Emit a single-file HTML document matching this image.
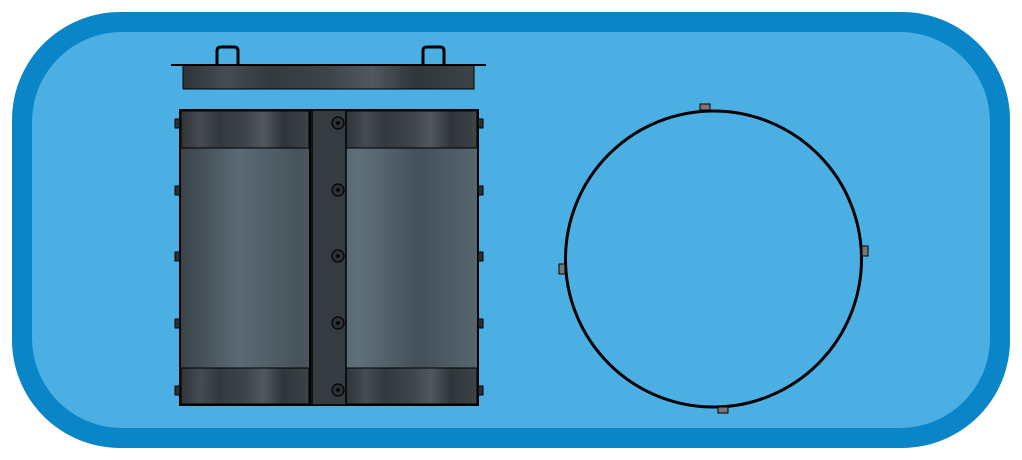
<!DOCTYPE html>
<html><head><style>html,body{margin:0;padding:0;background:#fff;}svg{display:block}</style></head>
<body>
<svg width="1022" height="460" viewBox="0 0 1022 460" xmlns="http://www.w3.org/2000/svg">
<defs>
<linearGradient id="g1" x1="0" x2="1" y1="0" y2="0">
<stop offset="0" stop-color="#2e3438"/><stop offset="0.15" stop-color="#454c52"/><stop offset="0.3" stop-color="#33393d"/><stop offset="0.5" stop-color="#3e454a"/><stop offset="0.65" stop-color="#50595f"/><stop offset="0.8" stop-color="#2f3539"/><stop offset="1" stop-color="#3d4448"/>
</linearGradient>
<linearGradient id="g2" x1="0" x2="1" y1="0" y2="0">
<stop offset="0" stop-color="#3a4349"/><stop offset="0.2" stop-color="#5a6a74"/><stop offset="0.4" stop-color="#47535b"/><stop offset="0.6" stop-color="#5f707a"/><stop offset="0.8" stop-color="#44505a"/><stop offset="1" stop-color="#56656e"/>
</linearGradient>
</defs>
<rect x="12" y="12" width="998" height="436" rx="108" fill="#0a86c8"/>
<rect x="32" y="32" width="958" height="396" rx="90" fill="#4cafe4"/>
<!-- lid -->
<g stroke="#000" fill="none" stroke-width="3">
<path d="M217 65 V51 q0-4 4-4 h13 q4 0 4 4 V65"/>
<path d="M423 65 V51 q0-4 4-4 h13 q4 0 4 4 V65"/>
</g>
<rect x="183" y="65" width="291" height="24" fill="url(#g1)" stroke="#000" stroke-width="1"/>
<line x1="171" y1="65" x2="486" y2="65" stroke="#000" stroke-width="2"/>
<!-- body -->
<rect x="180" y="110" width="298" height="295" fill="url(#g2)" stroke="#000" stroke-width="2"/>
<rect x="181" y="111" width="128" height="37" fill="url(#g1)" stroke="#000" stroke-width="1"/>
<rect x="346" y="111" width="131" height="37" fill="url(#g1)" stroke="#000" stroke-width="1"/>
<rect x="181" y="368" width="128" height="36" fill="url(#g1)" stroke="#000" stroke-width="1"/>
<rect x="346" y="368" width="131" height="36" fill="url(#g1)" stroke="#000" stroke-width="1"/>
<rect x="312" y="110" width="34" height="295" fill="#353c41" stroke="#000" stroke-width="1.5"/>
<line x1="310" y1="110" x2="310" y2="405" stroke="#000" stroke-width="2"/>
<g fill="#2a3034" stroke="#000" stroke-width="1.2">
<circle cx="338" cy="123" r="6"/><circle cx="338" cy="190" r="6"/><circle cx="338" cy="256" r="6"/><circle cx="338" cy="323" r="6"/><circle cx="338" cy="390" r="6"/>
</g>
<g fill="#000"><circle cx="338" cy="123" r="1.8"/><circle cx="338" cy="190" r="1.8"/><circle cx="338" cy="256" r="1.8"/><circle cx="338" cy="323" r="1.8"/><circle cx="338" cy="390" r="1.8"/></g>
<g fill="#2a3034" stroke="#000" stroke-width="1">
<rect x="175" y="119" width="5" height="9"/><rect x="175" y="186" width="5" height="9"/><rect x="175" y="252" width="5" height="9"/><rect x="175" y="319" width="5" height="9"/><rect x="175" y="386" width="5" height="9"/>
<rect x="478" y="119" width="5" height="9"/><rect x="478" y="186" width="5" height="9"/><rect x="478" y="252" width="5" height="9"/><rect x="478" y="319" width="5" height="9"/><rect x="478" y="386" width="5" height="9"/>
</g>
<!-- circle view -->
<ellipse cx="713.5" cy="259" rx="148" ry="148" fill="none" stroke="#000" stroke-width="3"/>
<g fill="#777" stroke="#000" stroke-width="1">
<rect x="700" y="104" width="10" height="6"/>
<rect x="862" y="246" width="6" height="10"/>
<rect x="718" y="407" width="10" height="6"/>
<rect x="559" y="264" width="6" height="10"/>
</g>
</svg>
</body></html>
